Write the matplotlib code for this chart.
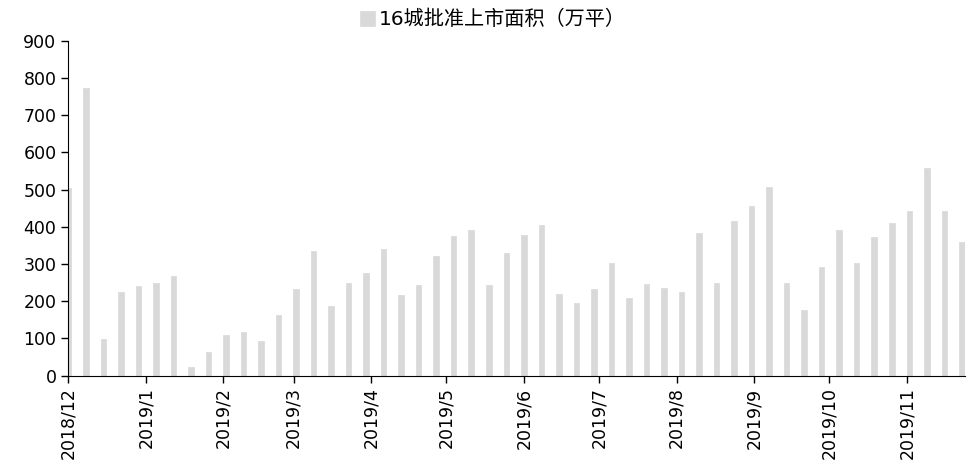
import matplotlib
matplotlib.use("Agg")
import matplotlib.pyplot as plt
import matplotlib.dates as mdates
from matplotlib.ticker import FuncFormatter
import pandas as pd

# weekly approved-for-sale area, 16 cities (10k sqm)
week_start = "2018-12-01"
n_weeks = 52
area = [505, 772, 98, 224, 242, 248, 267, 24, 64, 108,
        118, 93, 162, 234, 336, 187, 250, 275, 340, 217,
        244, 322, 376, 391, 244, 329, 378, 406, 219, 194,
        233, 303, 209, 245, 236, 226, 383, 248, 415, 457,
        508, 249, 176, 291, 392, 302, 373, 410, 442, 557,
        442, 360]
y_ticks = [0, 100, 200, 300, 400, 500, 600, 700, 800, 900]
series_name = "16城批准上市面积（万平）"

dates = pd.date_range(week_start, periods=n_weeks, freq="7D")

plt.rcParams['font.family'] = ['DejaVu Sans', 'Noto Sans CJK SC']

fig = plt.figure(figsize=(9.71, 4.66), dpi=100)
ax = fig.add_axes([0.0703, 0.1938, 0.9235, 0.7189])

ax.bar(dates, area, width=2.2, color="#D9D9D9", edgecolor="#D9D9D9",
       linewidth=0.5, joinstyle="round", label=series_name)

ax.set_ylim(0, 900)
ax.set_yticks(y_ticks)
ax.set_xlim(pd.Timestamp("2018-12-01"), pd.Timestamp("2019-11-24 06:00"))

ax.xaxis.set_major_locator(mdates.MonthLocator())
ax.xaxis.set_major_formatter(FuncFormatter(
    lambda v, pos: f"{mdates.num2date(v).year}/{mdates.num2date(v).month}"))

for lab in ax.get_xticklabels():
    lab.set_rotation(90)

ax.tick_params(axis="both", labelsize=12.5, direction="out", length=5,
               width=1, color="black")
ax.spines["top"].set_visible(False)
ax.spines["right"].set_visible(False)
ax.spines["left"].set_color("black")
ax.spines["bottom"].set_color("black")

fig.legend(loc="upper center", bbox_to_anchor=(493 / 971, 1.0),
           frameon=False, fontsize=14.5, handlelength=0.75, handleheight=0.75,
           handletextpad=0.2, borderaxespad=0.1)

fig.savefig("out.png", dpi=100)
